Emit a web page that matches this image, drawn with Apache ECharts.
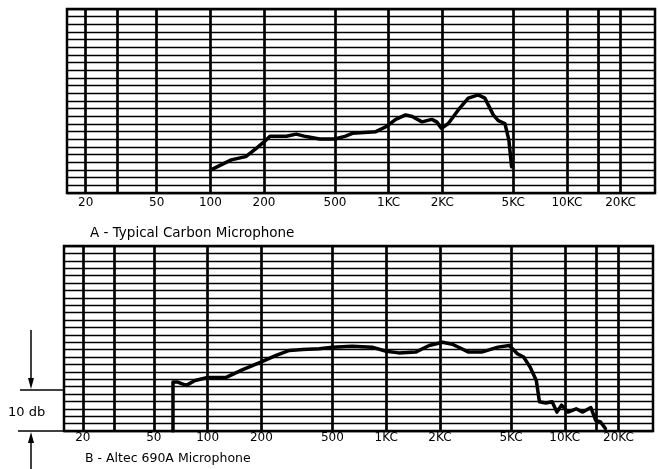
<!DOCTYPE html>
<html><head><meta charset="utf-8">
<script src="https://cdn.jsdelivr.net/npm/echarts@6/dist/echarts.min.js"></script>
<style>html,body{margin:0;padding:0;background:#fff}#c{width:658px;height:469px}</style>
</head><body><div id="c"></div>
<script>
// Vertical grid lines (Hz) and tick labels
const gridFreqs = [20, 30, 50, 100, 200, 500, 1000, 2000, 5000, 10000, 15000, 20000];
const labelFreqs = [20, 50, 100, 200, 500, 1000, 2000, 5000, 10000, 20000];
const labelNames = ['20', '50', '100', '200', '500', '1KC', '2KC', '5KC', '10KC', '20KC'];

// A - Typical Carbon Microphone (Hz, dB)
const carbonFreq = [100, 131, 158, 181, 200, 216, 267, 303, 344, 410, 500, 574, 626, 848, 965, 1097, 1245, 1356, 1538, 1746, 1860, 1980, 2161, 2458, 2797, 3182, 3466, 3863, 4121, 4489, 4725, 4895];
const carbonDb   = [5.6, 8.1, 8.9, 10.9, 12.5, 13.9, 13.9, 14.4, 13.8, 13.2, 13.2, 13.9, 14.6, 15.0, 16.2, 18.0, 19.1, 18.7, 17.4, 18.0, 17.4, 15.8, 17.0, 20.3, 23.2, 24.0, 23.2, 19.1, 17.7, 17.0, 13.0, 6.4];

// B - Altec 690A Microphone (Hz, dB)
const altecFreq = [64, 64, 68, 76, 85, 100, 128, 155, 200, 242, 287, 341, 422, 500, 645, 833, 1000, 1176, 1462, 1741, 2070, 2348, 2896, 3425, 4227, 4894, 5427, 5882, 6383, 6929, 7214, 7829, 8498, 9036, 9593, 10427, 11580, 12610, 14006, 14900, 15870, 16890];
const altecDb   = [0, 11.9, 11.9, 11.1, 12.3, 13.0, 13.1, 14.8, 16.8, 18.4, 19.6, 19.8, 20.0, 20.4, 20.6, 20.4, 19.4, 19.0, 19.2, 20.8, 21.6, 21.1, 19.2, 19.2, 20.4, 20.8, 18.8, 18.0, 15.6, 12.3, 7.1, 6.8, 7.1, 4.6, 6.3, 4.6, 5.4, 4.6, 5.7, 2.6, 2.2, 0.6];

const captionA = 'A - Typical Carbon Microphone';
const captionB = 'B - Altec 690A Microphone';
const dbLabel = '10 db';

const FONT = 'DejaVu Sans';

function nameFor(v) {
  let best = 0, bd = Infinity;
  labelFreqs.forEach((f, i) => { const d = Math.abs(Math.log(v / f)); if (d < bd) { bd = d; best = i; } });
  return labelNames[best];
}

function xAxisCfg(gridIndex, margin) {
  return {
    type: 'log', logBase: 10, gridIndex: gridIndex, min: 15.7, max: 31200,
    axisLine: { show: false },
    axisTick: { show: false, customValues: gridFreqs },
    splitLine: { show: true, lineStyle: { color: '#000', width: 2.7 } },
    axisLabel: { customValues: labelFreqs, formatter: nameFor, margin: margin, color: '#000', fontSize: 12, fontFamily: FONT }
  };
}
function yAxisCfg(gridIndex, interval) {
  return {
    type: 'value', gridIndex: gridIndex, min: 0, max: 45, interval: interval,
    axisLine: { show: false }, axisTick: { show: false }, axisLabel: { show: false },
    splitLine: { show: true, lineStyle: { color: '#000', width: 1.3 } }
  };
}
const zip = (a, b) => a.map((v, i) => [v, b[i]]);

const chart = echarts.init(document.getElementById('c'), null, { renderer: 'canvas' });
const option = {
  animation: false,
  backgroundColor: '#fff',
  title: [
    { text: captionA, left: 90, top: 226, padding: 0, textStyle: { fontSize: 13.5, fontWeight: 'normal', color: '#000', fontFamily: FONT } },
    { text: captionB, left: 85, top: 452, padding: 0, textStyle: { fontSize: 12.5, fontWeight: 'normal', color: '#000', fontFamily: FONT } }
  ],
  grid: [
    { left: 67, right: 3, top: 9, height: 184, show: true, borderColor: '#000', borderWidth: 2.5, backgroundColor: 'transparent' },
    { left: 64, right: 5, top: 246, height: 185, show: true, borderColor: '#000', borderWidth: 2.5, backgroundColor: 'transparent' }
  ],
  xAxis: [xAxisCfg(0, 4), xAxisCfg(1, 1)],
  yAxis: [yAxisCfg(0, 1.875), yAxisCfg(1, 1.8)],
  series: [
    { type: 'line', xAxisIndex: 0, yAxisIndex: 0, data: zip(carbonFreq, carbonDb), showSymbol: false, smooth: false,
      lineStyle: { color: '#000', width: 3.5, join: 'round', cap: 'round' }, z: 5 },
    { type: 'line', xAxisIndex: 1, yAxisIndex: 1, data: zip(altecFreq, altecDb), showSymbol: false, smooth: false,
      lineStyle: { color: '#000', width: 3.5, join: 'round', cap: 'round' }, z: 5 }
  ]
};
chart.setOption(option);

const y10 = chart.convertToPixel({ yAxisIndex: 1 }, 10);
const y0 = chart.convertToPixel({ yAxisIndex: 1 }, 0);
const stroke = { stroke: '#000', lineWidth: 1.5 };
chart.setOption({
  graphic: [
    { type: 'line', shape: { x1: 20, y1: y10, x2: 64, y2: y10 }, style: stroke },
    { type: 'line', shape: { x1: 18, y1: y0, x2: 64, y2: y0 }, style: stroke },
    { type: 'line', shape: { x1: 31, y1: 330, x2: 31, y2: y10 - 8 }, style: stroke },
    { type: 'polygon', shape: { points: [[28, y10 - 12], [34, y10 - 12], [31, y10 - 1]] }, style: { fill: '#000' } },
    { type: 'line', shape: { x1: 31, y1: y0 + 8, x2: 31, y2: 469 }, style: stroke },
    { type: 'polygon', shape: { points: [[28, y0 + 12], [34, y0 + 12], [31, y0 + 1]] }, style: { fill: '#000' } },
    { type: 'text', x: 8, y: (y10 + y0) / 2 + 2, style: { text: dbLabel, fill: '#000', font: '13px ' + FONT, textVerticalAlign: 'middle' } }
  ]
});
</script></body></html>
